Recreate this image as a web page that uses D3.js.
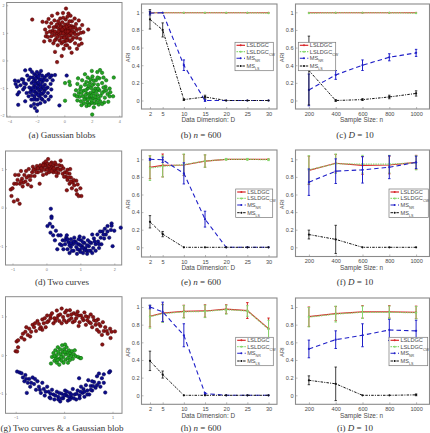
<!DOCTYPE html>
<html><head><meta charset="utf-8">
<script src="https://cdn.jsdelivr.net/npm/d3@7/dist/d3.min.js"></script>
<style>html,body{margin:0;padding:0;background:#fff}svg{display:block}</style>
</head><body><svg id="fig" width="430" height="433"></svg>
<script>
// x-axis categories
const dims = [2,5,10,15,20,25,30];
const sizes = [200,400,600,800,1000];
const ariTicks = [0,0.2,0.4,0.6,0.8,1];

// ARI means and error half-widths, one pair of arrays per method and panel
const bLs=[0.995,0.995,0.995,0.995,0.995,0.995,0.995], bLsE=[0,0,0,0,0,0,0];
const bCw=[0.995,0.995,0.995,0.995,0.995,0.995,0.99], bCwE=[0,0,0,0,0,0,0];
const bNr=[0.99,0.995,0.40,0.0,0,0,0], bNrE=[0.02,0,0.06,0.01,0,0,0];
const bMl=[0.92,0.80,0.01,0.04,0,0,0], bMlE=[0.11,0.08,0.01,0.02,0,0,0];

const cLs=[0.995,0.995,0.995,0.995,0.995], cLsE=[0,0,0,0,0];
const cCw=[0.99,0.995,0.995,0.995,0.99], cCwE=[0,0,0,0,0];
const cNr=[0.12,0.29,0.40,0.49,0.54], cNrE=[0.18,0.05,0.06,0.04,0.04];
const cMl=[0.34,0,0.01,0.04,0.08], cMlE=[0.39,0.01,0.01,0.02,0.03];

const eLs=[0.91,0.93,0.935,0.98,1,1,1], eLsE=[0.13,0.13,0.12,0.07,0,0,0];
const eCw=[0.90,0.92,0.94,0.98,1,1,0.995], eCwE=[0.14,0.12,0.12,0.07,0.01,0.01,0.01];
const eNr=[1.0,0.995,0.84,0.32,0,0,0], eNrE=[0.01,0.03,0.12,0.09,0,0,0];
const eMl=[0.29,0.15,0,0,0,0,0], eMlE=[0.07,0.03,0,0,0,0,0];

const fLs=[0.875,0.955,0.93,0.935,0.965], fLsE=[0.16,0.10,0.10,0.10,0.08];
const fCw=[0.88,0.95,0.945,0.945,0.96], fCwE=[0.16,0.11,0.10,0.10,0.08];
const fNr=[0.74,0.865,0.88,0.91,0.965], fNrE=[0.15,0.14,0.15,0.13,0.07];
const fMl=[0.145,0.09,0,0,0], fMlE=[0.05,0.16,0,0,0];

const hLs=[0.895,0.93,0.95,0.955,0.975,0.96,0.755], hLsE=[0.12,0.10,0.07,0.07,0.05,0.09,0.12];
const hCw=[0.89,0.925,0.945,0.95,0.97,0.955,0.75], hCwE=[0.13,0.10,0.07,0.07,0.05,0.06,0.10];
const hNr=[1.0,0.945,0.68,0.02,0,0,0], hNrE=[0.02,0.11,0.13,0.01,0,0,0];
const hMl=[0.39,0.235,0,0,0,0,0], hMlE=[0.11,0.04,0,0,0,0,0];

const iLs=[0.89,0.925,0.945,0.945,0.94], iLsE=[0.11,0.08,0.07,0.07,0.07];
const iCw=[0.885,0.92,0.94,0.94,0.935], iCwE=[0.11,0.09,0.07,0.07,0.07];
const iNr=[0.525,0.63,0.68,0.74,0.73], iNrE=[0.10,0.10,0.13,0.12,0.12];
const iMl=[0.17,0.13,0,0,0.005], iMlE=[0.05,0.19,0,0,0.01];

// Cluster samples for the scatter panels
const aRed=[[-2.34,1.48],[0.12,1.88],[-0.53,-0.06],[-0.68,0.31],[-1.47,0.69],[1.74,1.12],[-1.59,1.40],[0.53,0.28],[-0.19,0.16],[1.26,0.61],[-1.3,1.38],[-1.15,1.5],[-0.9,1.62],[-0.5,1.7],[-0.1,1.72],[0.3,1.7],[0.45,1.62],[0.75,1.52],[1.05,1.45],[1.3,1.28],[-1.4,1.12],[-1.28,1.0],[-1.35,0.88],[-1.1,1.22],[-0.95,1.35],[-0.85,1.08],[-0.95,0.88],[-1.05,0.72],[-0.8,0.62],[-0.72,1.45],[-0.62,1.22],[-0.55,0.98],[-0.6,0.78],[-0.48,0.55],[-0.35,0.72],[-0.38,0.92],[-0.32,1.1],[-0.35,1.32],[-0.3,1.52],[-0.15,1.38],[-0.12,1.2],[-0.18,1.02],[-0.12,0.85],[-0.2,0.62],[-0.05,0.42],[0.05,0.7],[0.05,0.95],[0.08,1.12],[0.05,1.3],[0.1,1.48],[0.22,1.58],[0.25,1.32],[0.28,1.15],[0.22,0.98],[0.25,0.78],[0.2,0.55],[0.38,0.45],[0.42,0.7],[0.45,0.9],[0.42,1.08],[0.5,1.25],[0.55,1.42],[0.68,1.22],[0.7,1.02],[0.65,0.82],[0.78,0.62],[0.9,0.82],[0.9,1.1],[1.0,0.95],[1.12,1.15],[1.15,0.78],[1.38,1.02],[1.05,0.55],[0.85,1.32],[-0.72,0.92],[-0.78,1.2],[-0.45,1.18],[-0.22,0.82],[0.12,0.85],[0.35,1.25],[0.58,1.05],[-1.2,0.85],[0.92,0.42],[-0.05,1.05],[0.15,1.22],[-0.25,1.25],
[-0.68,1.05],[-0.5,0.85],[-0.42,1.05],[-0.28,1.2],[-0.25,0.98],[-0.08,0.98],[-0.02,1.18],[0.0,0.82],[0.12,1.05],[0.18,0.72],[0.32,0.9],[0.35,1.05],[0.5,0.98],[0.55,0.75],[0.62,1.18],[0.78,0.95],[0.82,1.18],[-0.9,1.0],[-0.7,0.72],[-0.45,1.42],[-0.08,1.55],[0.38,1.42],[-1.05,1.05],[1.2,1.0],[-0.1,0.68],[0.08,0.55],[0.45,1.18],[-0.55,1.3],[-0.15,1.12],[0.25,1.05]];
const aBlue=[[-3.6,-0.73],[-3.41,-1.23],[-3.36,-1.61],[-2.85,-0.36],[-2.49,-0.33],[-2.0,-1.83],[-2.42,-1.65],[-0.68,-0.53],[-0.99,-1.31],[0.17,-0.55],[-0.36,-1.63],[-3.55,-0.85],[-3.35,-0.75],[-3.2,-0.9],[-3.1,-0.68],[-3.0,-0.7],[-3.3,-1.15],[-3.0,-1.05],[-2.8,-0.85],[-2.7,-0.55],[-2.6,-0.7],[-2.55,-0.98],[-2.75,-1.18],[-2.6,-1.3],[-2.85,-1.48],[-2.35,-0.42],[-2.3,-0.62],[-2.38,-0.82],[-2.42,-1.05],[-2.35,-1.25],[-2.4,-1.42],[-2.2,-1.58],[-2.15,-1.72],[-2.18,-0.5],[-2.15,-0.72],[-2.2,-0.92],[-2.15,-1.12],[-2.18,-1.32],[-2.0,-0.42],[-1.98,-0.62],[-2.02,-0.82],[-1.98,-1.0],[-2.0,-1.18],[-1.95,-1.42],[-1.95,-1.6],[-1.82,-0.48],[-1.8,-0.7],[-1.85,-0.9],[-1.8,-1.1],[-1.82,-1.3],[-1.75,-1.55],[-1.62,-0.55],[-1.62,-0.78],[-1.65,-1.0],[-1.6,-1.22],[-1.6,-1.42],[-1.45,-0.62],[-1.42,-0.88],[-1.45,-1.08],[-1.38,-1.3],[-1.42,-1.5],[-1.28,-0.72],[-1.22,-0.98],[-1.2,-1.18],[-1.15,-1.42],[-1.05,-0.62],[-1.0,-0.85],[-0.95,-1.05],[-0.85,-0.72],[-1.15,-0.5],[-0.92,-0.55],[-1.7,-0.38],[-2.1,-1.0],[-1.9,-0.8],[-2.28,-1.12],[-1.72,-1.2],[-2.05,-0.55],[-1.55,-0.95],
[-2.25,-0.75],[-2.08,-0.65],[-2.12,-0.85],[-1.92,-0.95],[-1.88,-1.05],[-2.08,-1.22],[-1.9,-1.25],[-1.72,-0.88],[-1.72,-1.05],[-1.52,-0.72],[-1.5,-1.15],[-2.32,-1.0],[-2.5,-1.15],[-2.48,-0.62],[-2.08,-1.42],[-1.88,-0.58],[-1.68,-0.68],[-1.35,-1.02],[-3.45,-0.95],[-2.9,-0.98],[-2.95,-0.82],[-2.25,-1.42],[-1.68,-1.38],[-1.3,-0.55]];
const aGreen=[[0.05,-1.46],[2.03,-1.96],[0.05,-0.82],[0.36,-0.77],[0.41,-0.89],[3.6,-0.62],[2.0,-0.38],[1.5,-0.5],[1.0,-0.65],[1.3,-0.72],[1.7,-0.62],[2.05,-0.58],[2.4,-0.42],[2.6,-0.35],[2.75,-0.45],[2.55,-0.65],[2.85,-0.62],[3.05,-0.72],[2.3,-0.72],[0.95,-0.85],[0.85,-1.08],[1.2,-0.95],[1.5,-0.88],[1.85,-0.8],[2.15,-0.85],[2.45,-0.88],[2.75,-0.82],[3.0,-0.95],[3.3,-1.02],[3.35,-1.15],[1.05,-1.18],[0.75,-1.25],[1.4,-1.1],[1.7,-1.02],[1.95,-1.0],[2.25,-1.02],[2.55,-1.08],[2.9,-1.12],[3.15,-1.22],[3.55,-1.3],[3.3,-1.3],[1.1,-1.32],[1.35,-1.3],[1.65,-1.2],[1.9,-1.18],[2.15,-1.2],[2.4,-1.25],[2.65,-1.28],[2.95,-1.35],[1.2,-1.48],[0.95,-1.45],[1.55,-1.38],[1.8,-1.35],[2.05,-1.38],[2.3,-1.42],[2.6,-1.48],[2.9,-1.52],[3.2,-1.5],[1.42,-1.55],[1.68,-1.52],[1.95,-1.55],[2.2,-1.55],[1.25,-1.62],[1.62,-1.65],[2.0,-1.52],[2.15,-1.7],[1.8,-1.62],[2.75,-1.58],[1.15,-1.05],[2.35,-1.12],[1.85,-1.28],[2.5,-1.6],[2.02,-0.9],[1.55,-1.08],
[1.75,-0.92],[2.1,-1.1],[1.98,-1.28],[2.25,-1.32],[2.0,-1.45],[1.72,-1.42],[1.55,-1.25],[2.45,-1.02],[2.5,-1.38],[2.75,-1.18],[2.85,-0.98],[2.12,-0.72],[2.42,-0.62],[1.25,-1.18],[0.9,-1.3],[1.9,-0.68],[1.45,-1.42],[2.35,-1.52],[3.05,-1.08],[1.6,-0.78]];
const dRed=[[-1.05,0.47],[-1.0,0.5],[-1.03,0.3],[-0.96,0.16],[-0.85,0.2],[-0.79,0.1],[-0.92,0.85],[-0.95,0.62],[-0.85,0.72],[-0.82,0.85],[-0.75,0.95],[-0.72,0.75],[-0.78,0.62],[-0.7,0.55],[-0.62,0.68],[-0.65,0.85],[-0.6,0.95],[-0.52,1.0],[-0.52,0.82],[-0.55,0.6],[-0.48,0.72],[-0.42,0.92],[-0.4,1.06],[-0.35,0.82],[-0.32,1.0],[-0.28,1.08],[-0.25,0.92],[-0.22,1.02],[-0.18,1.1],[-0.15,0.95],[-0.12,1.05],[-0.08,1.15],[-0.05,0.98],[-0.02,1.08],[0.02,1.15],[0.05,1.26],[0.05,1.02],[0.08,0.92],[0.1,1.1],[0.12,1.0],[0.15,1.17],[0.18,1.05],[0.2,0.92],[0.22,1.1],[0.25,0.98],[0.28,1.12],[0.32,1.02],[0.35,0.9],[0.38,1.1],[0.42,1.22],[0.42,0.98],[0.48,0.88],[0.5,1.02],[0.55,0.92],[0.58,0.8],[0.62,0.98],[0.62,0.72],[0.68,0.88],[0.7,1.0],[0.68,0.62],[0.72,0.78],[0.78,0.65],[0.75,0.5],[0.82,0.58],[0.88,0.7],[0.88,0.45],[0.92,0.6],[0.9,0.35],[1.0,0.5],[1.03,0.3],[0.95,0.3],[-0.2,0.62],[-0.45,0.55],[0.0,0.88],[-0.1,0.85],[0.3,0.82],[-0.3,0.92],[0.6,0.45],
[-0.68,0.65],[-0.58,0.78],[-0.45,0.82],[-0.38,0.98],[-0.25,1.02],[-0.15,1.02],[-0.05,1.1],[0.02,0.98],[0.08,1.08],[0.15,0.95],[0.22,1.02],[0.28,0.92],[0.35,1.0],[0.45,1.08],[0.52,0.8],[0.6,0.9],[0.72,0.68],[0.8,0.72],[-0.88,0.62],[-0.02,1.2],[0.12,1.13],[-0.1,1.1],[-0.75,0.68],[0.25,1.17],[0.65,0.78]];
const dBlue=[[0.13,-0.03],[0.15,-0.23],[0.15,-0.27],[0.03,-0.48],[0.1,-0.42],[0.18,-0.5],[0.12,-0.65],[0.28,-0.6],[0.2,-0.72],[0.25,-0.85],[0.35,-0.72],[0.4,-0.95],[0.32,-1.08],[0.42,-0.72],[0.48,-0.85],[0.5,-1.08],[0.55,-0.95],[0.58,-0.78],[0.62,-1.08],[0.65,-0.9],[0.68,-1.18],[0.72,-1.02],[0.72,-0.82],[0.78,-0.95],[0.8,-1.12],[0.85,-0.88],[0.88,-1.02],[0.9,-1.2],[0.95,-0.95],[0.98,-1.1],[1.02,-0.85],[1.05,-1.0],[1.08,-1.18],[1.12,-0.92],[1.15,-1.05],[1.2,-1.2],[1.22,-0.85],[1.25,-1.0],[1.3,-1.12],[1.32,-0.92],[1.38,-1.05],[1.4,-0.8],[1.45,-1.12],[1.45,-0.95],[1.5,-0.7],[1.52,-0.88],[1.55,-1.05],[1.6,-0.78],[1.62,-0.95],[1.65,-0.62],[1.7,-0.8],[1.72,-0.55],[1.75,-0.7],[1.8,-0.48],[1.8,-0.62],[1.85,-0.78],[1.9,-0.58],[1.92,-0.41],[1.92,-0.47],[1.95,-1.0],[2.0,-0.6],[2.19,-0.52],[0.98,-0.75],[0.6,-0.72],[1.1,-0.78],[0.82,-0.78],[1.35,-0.7],[1.0,-0.98],[0.75,-1.12],[1.18,-1.12],
[0.55,-0.85],[0.68,-0.98],[0.8,-0.88],[0.92,-1.08],[1.0,-1.15],[1.08,-0.9],[1.12,-1.1],[1.2,-0.98],[1.28,-0.9],[1.35,-1.18],[1.42,-0.88],[1.55,-0.95],[0.88,-0.92],[0.95,-0.82],[1.05,-1.05],[0.72,-0.92],[0.45,-0.98],[1.68,-0.7],[1.58,-0.62],[1.25,-1.12],[0.62,-0.82]];
const gRed=[[-1.0,0.1],[-0.97,0.09],[-0.95,0.2],[-0.98,0.35],[-0.95,0.38],[-0.88,0.45],[-0.82,0.4],[-0.85,0.55],[-0.8,0.6],[-0.75,0.52],[-0.72,0.68],[-0.68,0.6],[-0.65,0.78],[-0.62,0.72],[-0.58,0.62],[-0.55,0.88],[-0.52,0.8],[-0.48,0.72],[-0.45,0.92],[-0.42,0.82],[-0.38,0.72],[-0.35,1.02],[-0.32,0.88],[-0.28,0.95],[-0.25,1.08],[-0.22,0.82],[-0.2,0.95],[-0.15,1.15],[-0.12,1.02],[-0.1,0.88],[-0.05,1.2],[-0.02,0.98],[0.02,1.1],[0.05,0.85],[0.08,1.02],[0.12,1.16],[0.15,0.95],[0.18,0.85],[0.2,1.08],[0.25,0.95],[0.28,1.12],[0.32,0.85],[0.35,1.02],[0.4,0.9],[0.42,1.1],[0.45,0.78],[0.5,0.98],[0.52,0.85],[0.55,1.05],[0.58,0.72],[0.62,0.9],[0.65,0.78],[0.68,0.65],[0.7,0.92],[0.72,0.6],[0.75,0.75],[0.78,0.52],[0.8,0.85],[0.82,0.62],[0.85,0.72],[0.79,0.27],[0.9,0.55],[0.96,0.44],[0.95,0.68],[1.05,0.61],[0.98,0.6],[0.3,0.75],[-0.05,0.82],[-0.45,0.65],[-0.7,0.48],
[-0.6,0.82],[-0.5,0.68],[-0.35,0.85],[-0.18,0.88],[-0.08,1.05],[0.0,0.9],[0.1,0.9],[0.15,1.05],[0.22,0.88],[0.3,1.02],[0.38,0.95],[0.48,0.9],[0.55,0.82],[0.6,0.98],[0.66,0.88],[-0.28,1.02],[-0.15,0.95],[0.05,1.15],[0.25,1.05],[0.72,0.8],[-0.78,0.72],[0.88,0.62],[-0.4,0.95],[0.45,1.0]];
const gBlue=[[-0.97,-0.43],[-0.92,-0.45],[-0.88,-0.47],[-0.85,-0.58],[-0.8,-0.52],[-0.82,-0.68],[-0.77,-0.98],[-0.75,-0.72],[-0.72,-0.62],[-0.7,-0.82],[-0.65,-0.58],[-0.62,-0.75],[-0.58,-0.9],[-0.55,-0.68],[-0.52,-0.82],[-0.48,-0.98],[-0.45,-0.72],[-0.42,-0.88],[-0.4,-1.05],[-0.35,-0.82],[-0.32,-0.95],[-0.3,-1.1],[-0.25,-0.9],[-0.22,-1.02],[-0.2,-1.15],[-0.15,-0.95],[-0.12,-1.08],[-0.08,-1.2],[-0.05,-1.0],[-0.02,-1.12],[0.02,-0.92],[0.05,-1.05],[0.08,-1.18],[0.12,-0.98],[0.15,-1.1],[0.18,-0.88],[0.22,-1.02],[0.25,-1.15],[0.28,-0.92],[0.31,-0.6],[0.32,-1.05],[0.35,-0.82],[0.38,-0.98],[0.42,-1.08],[0.45,-0.78],[0.48,-0.92],[0.5,-0.65],[0.52,-1.02],[0.55,-0.8],[0.58,-0.92],[0.62,-0.7],[0.65,-0.85],[0.68,-0.55],[0.72,-0.72],[0.75,-0.82],[0.72,-0.48],[0.78,-0.6],[0.82,-0.72],[0.85,-0.97],[0.82,-0.5],[0.95,-0.42],[0.93,-0.45],[-0.28,-1.0],[0.1,-1.08],[0.4,-0.88],[-0.6,-0.62],[0.02,-1.02],
[-0.38,-0.95],[-0.18,-1.05],[-0.1,-0.98],[-0.05,-1.12],[0.0,-1.05],[0.06,-0.95],[0.15,-1.02],[0.2,-1.12],[0.26,-1.0],[0.34,-0.95],[0.42,-0.95],[0.48,-1.02],[0.55,-0.9],[0.6,-0.8],[0.68,-0.78],[-0.68,-0.72],[-0.5,-0.9],[-0.28,-1.12],[-0.12,-1.15],[0.12,-1.15],[0.32,-1.12],[-0.78,-0.62],[0.58,-0.68]];
const gGreen=[[-0.27,-0.22],[-0.25,-0.05],[-0.22,0.05],[-0.2,-0.15],[-0.18,0.12],[-0.17,-0.08],[-0.15,0.0],[-0.15,-0.2],[-0.13,0.2],[-0.12,0.08],[-0.1,-0.1],[-0.1,-0.25],[-0.08,0.15],[-0.07,0.02],[-0.05,-0.15],[-0.04,0.25],[-0.03,0.08],[-0.02,-0.05],[-0.01,-0.2],[0.0,0.15],[0.02,0.27],[0.03,0.02],[0.03,-0.12],[0.05,0.2],[0.06,0.08],[0.08,-0.08],[0.08,-0.2],[0.1,0.12],[0.1,0.0],[0.12,-0.13],[0.13,0.05],[0.15,-0.03],[0.16,0.1],[0.18,-0.1],[0.2,0.02],[0.22,0.12],[0.24,-0.03],[0.29,-0.05],[0.33,-0.08],[0.35,-0.08],[-0.13,-0.13],[-0.06,-0.05],[0.01,0.08],[-0.2,-0.03]];

const REDS={fill:'#8c1414',stroke:'#4c0505'}, BLUES={fill:'#0c0c8c',stroke:'#04044e'}, GREENS={fill:'#22a522',stroke:'#0b5f0b'};
const GRAY='#8a8a8a', INK='#4a4a4a';
const svg=d3.select('#fig');

// One scatter panel: frame, tick marks and its coloured clusters
function scatter(box,xd,yd,xt,yt,groups){
  const x=d3.scaleLinear().domain(xd).range([box.l,box.r]);
  const y=d3.scaleLinear().domain(yd).range([box.b,box.t]);
  const g=svg.append('g');
  const ax=d3.axisBottom(x).tickValues(xt).tickSize(-1.5).tickPadding(3).tickFormat(d3.format('d'));
  const ay=d3.axisLeft(y).tickValues(yt).tickSize(-1.5).tickPadding(2).tickFormat(d3.format('d'));
  [[ax,`translate(0,${box.b})`],[ay,`translate(${box.l},0)`]].forEach(([a,t])=>{
    const s=g.append('g').attr('transform',t).call(a);
    s.select('.domain').remove();
    s.selectAll('line').attr('stroke',GRAY).attr('stroke-width',0.6);
    s.selectAll('text').attr('font-family','Liberation Sans').attr('font-size',3.8).attr('fill','#777');
  });
  g.append('rect').attr('x',box.l).attr('y',box.t).attr('width',box.r-box.l).attr('height',box.b-box.t)
    .attr('fill','none').attr('stroke',GRAY).attr('stroke-width',1);
  groups.forEach(([pts,c])=>{
    g.append('g').selectAll('circle').data(pts).join('circle')
      .attr('cx',d=>x(d[0])).attr('cy',d=>y(d[1])).attr('r',1.75)
      .attr('fill',c.fill).attr('stroke',c.stroke).attr('stroke-width',0.5);
  });
}

const METHODS=[
 {name:'LSLDGC',sub:'',color:'#d8262a',dash:null,w:1.2},
 {name:'LSLDGC',sub:'CW',color:'#86d86f',dash:'1.4,1',w:1.2},
 {name:'MS',sub:'NR',color:'#2020c8',dash:'4.5,3',w:1.1},
 {name:'MS',sub:'LS',color:'#111111',dash:'2.5,1.2,1,1.2',w:1}
];

// One ARI panel: axes, per-method error bars and lines, then the legend
function ariPanel(box,xs,xd,y0,y1,xLabel,series,leg){
  const x=d3.scaleLinear().domain(xd).range([box.l,box.r]);
  const k=(y0-y1);
  const y=d3.scaleLinear().domain([(y0-box.b)/k,(y0-box.t)/k]).range([box.b,box.t]);
  const g=svg.append('g');
  const ax=d3.axisBottom(x).tickValues(xs).tickSize(-2).tickPadding(3).tickFormat(d3.format('d'));
  const ay=d3.axisLeft(y).tickValues(ariTicks).tickSize(-2).tickPadding(2).tickFormat(d=>d===0?'0':d===1?'1':d3.format('.1f')(d));
  [[ax,`translate(0,${box.b})`],[ay,`translate(${box.l},0)`]].forEach(([a,t])=>{
    const s=g.append('g').attr('transform',t).call(a);
    s.select('.domain').remove();
    s.selectAll('line').attr('stroke',GRAY).attr('stroke-width',0.6);
    s.selectAll('text').attr('font-family','Liberation Sans').attr('font-size',5.6).attr('fill',INK);
  });
  g.append('rect').attr('x',box.l).attr('y',box.t).attr('width',box.r-box.l).attr('height',box.b-box.t)
    .attr('fill','none').attr('stroke',GRAY).attr('stroke-width',1.1);
  g.append('text').attr('x',(box.l+box.r)/2-1).attr('y',box.b+13.2).attr('text-anchor','middle')
    .attr('font-family','Liberation Sans').attr('font-size',6.4).attr('fill',INK).text(xLabel);
  g.append('text').attr('transform',`translate(${box.l-11.5},${(y0+y1)/2+1}) rotate(-90)`).attr('text-anchor','middle')
    .attr('font-family','Liberation Sans').attr('font-size',5.8).attr('fill',INK).text('ARI');
  const line=d3.line().x(d=>x(d.x)).y(d=>y(d.v));
  series.forEach(([vals,errs],i)=>{
    const m=METHODS[i];
    const rows=xs.map((v,j)=>({x:v,v:vals[j],e:errs[j]}));
    const eg=g.append('g').attr('stroke',m.color).attr('fill','none').attr('stroke-width',i===3?0.8:1);
    rows.filter(d=>d.e>0).forEach(d=>{
      const px=x(d.x),lo=y(Math.max(d.v-d.e,y.domain()[0])),hi=y(Math.min(d.v+d.e,y.domain()[1]));
      eg.append('path').attr('d',`M${px-1.2},${lo}H${px+1.2}M${px},${lo}V${hi}M${px-1.2},${hi}H${px+1.2}`);
    });
    g.append('path').attr('d',line(rows)).attr('fill','none').attr('stroke',m.color)
      .attr('stroke-width',m.w).attr('stroke-dasharray',m.dash);
    g.append('g').selectAll('circle').data(rows).join('circle')
      .attr('cx',d=>x(d.x)).attr('cy',d=>y(d.v)).attr('r',1.1).attr('fill',m.color);
  });
  // Legend block
  const lg=svg.append('g');
  lg.append('rect').attr('x',leg.l).attr('y',leg.t).attr('width',leg.r-leg.l).attr('height',28.4)
    .attr('fill','#fff').attr('stroke','#777').attr('stroke-width',0.7);
  [3,9.4,16,23.7].forEach((dy,i)=>{
    const m=METHODS[i],yy=leg.t+dy;
    lg.append('path').attr('d',`M${leg.l+1.5},${yy}H${leg.l+10}`).attr('stroke',m.color)
      .attr('stroke-width',m.w).attr('stroke-dasharray',m.dash);
    lg.append('circle').attr('cx',leg.l+5.7).attr('cy',yy).attr('r',1).attr('fill',m.color);
    const t=lg.append('text').attr('x',leg.l+11.5).attr('y',yy+2).attr('font-family','Liberation Sans')
      .attr('font-size',5.6).attr('fill',INK).text(m.name);
    if(m.sub) t.append('tspan').attr('dy',1.8).attr('font-size',3.6).text(m.sub);
  });
}

// Caption under a panel; pieces alternate between roman and math italic
function caption(cx,yy,parts){
  const t=svg.append('text').attr('x',cx).attr('y',yy).attr('text-anchor','middle')
    .attr('font-family','Liberation Serif').attr('font-size',9).attr('fill','#333').attr('xml:space','preserve');
  parts.forEach(([s,it])=>t.append('tspan').attr('font-style',it?'italic':'normal').text(s));
}

const DIM='Data Dimension: D', SIZE='Sample Size: n';
const dimDom=[0,32], sizeDom=[100,1100];

scatter({l:6.7,r:122,t:2.5,b:117},[-4.2,4.2],[-2.05,2.1],[-4,-2,0,2,4],[-2,-1,0,1,2],[[aRed,REDS],[aBlue,BLUES],[aGreen,GREENS]]);
scatter({l:5.5,r:121.7,t:151,b:265},[-1.206,2.218],[-1.49,1.47],[-1,0,1,2],[-1,0,1],[[dRed,REDS],[dBlue,BLUES]]);
scatter({l:5.5,r:122,t:296.7,b:413.3},[-1.21,1.196],[-1.508,1.508],[-1,0,1],[-1,0,1],[[gRed,REDS],[gBlue,BLUES],[gGreen,GREENS]]);

ariPanel({l:141.5,r:277,t:4,b:109},dims,dimDom,100.5,12.3,DIM,[[bLs,bLsE],[bCw,bCwE],[bNr,bNrE],[bMl,bMlE]],{l:235,r:273.3,t:42.3});
ariPanel({l:295.5,r:429.5,t:4,b:109},sizes,sizeDom,100.5,12.3,SIZE,[[cLs,cLsE],[cCw,cCwE],[cNr,cNrE],[cMl,cMlE]],{l:298.3,r:335.7,t:42.3});
ariPanel({l:141.5,r:277,t:150,b:257},dims,dimDom,247.3,159.3,DIM,[[eLs,eLsE],[eCw,eCwE],[eNr,eNrE],[eMl,eMlE]],{l:235.7,r:272.7,t:189});
ariPanel({l:295.5,r:429.5,t:150,b:256.5},sizes,sizeDom,247.3,159.3,SIZE,[[fLs,fLsE],[fCw,fCwE],[fNr,fNrE],[fMl,fMlE]],{l:389,r:428.3,t:189});
ariPanel({l:141.5,r:277,t:298,b:404.3},dims,dimDom,395.3,307,DIM,[[hLs,hLsE],[hCw,hCwE],[hNr,hNrE],[hMl,hMlE]],{l:235.7,r:273.3,t:337.3});
ariPanel({l:295.5,r:429.5,t:298,b:404.3},sizes,sizeDom,395.3,307,SIZE,[[iLs,iLsE],[iCw,iCwE],[iNr,iNrE],[iMl,iMlE]],{l:389,r:427.7,t:337.3});

caption(62,137.5,[['(a) Gaussian blobs',false]]);
caption(201,137.5,[['(b) ',false],['n',true],[' = 600',false]]);
caption(355,137.5,[['(c) ',false],['D',true],[' = 10',false]]);
caption(62,284.5,[['(d) Two curves',false]]);
caption(201,284.5,[['(e) ',false],['n',true],[' = 600',false]]);
caption(355,284.5,[['(f) ',false],['D',true],[' = 10',false]]);
caption(62,431,[['(g) Two curves & a Gaussian blob',false]]);
caption(201,431,[['(h) ',false],['n',true],[' = 600',false]]);
caption(355,431,[['(i) ',false],['D',true],[' = 10',false]]);
</script></body></html>
